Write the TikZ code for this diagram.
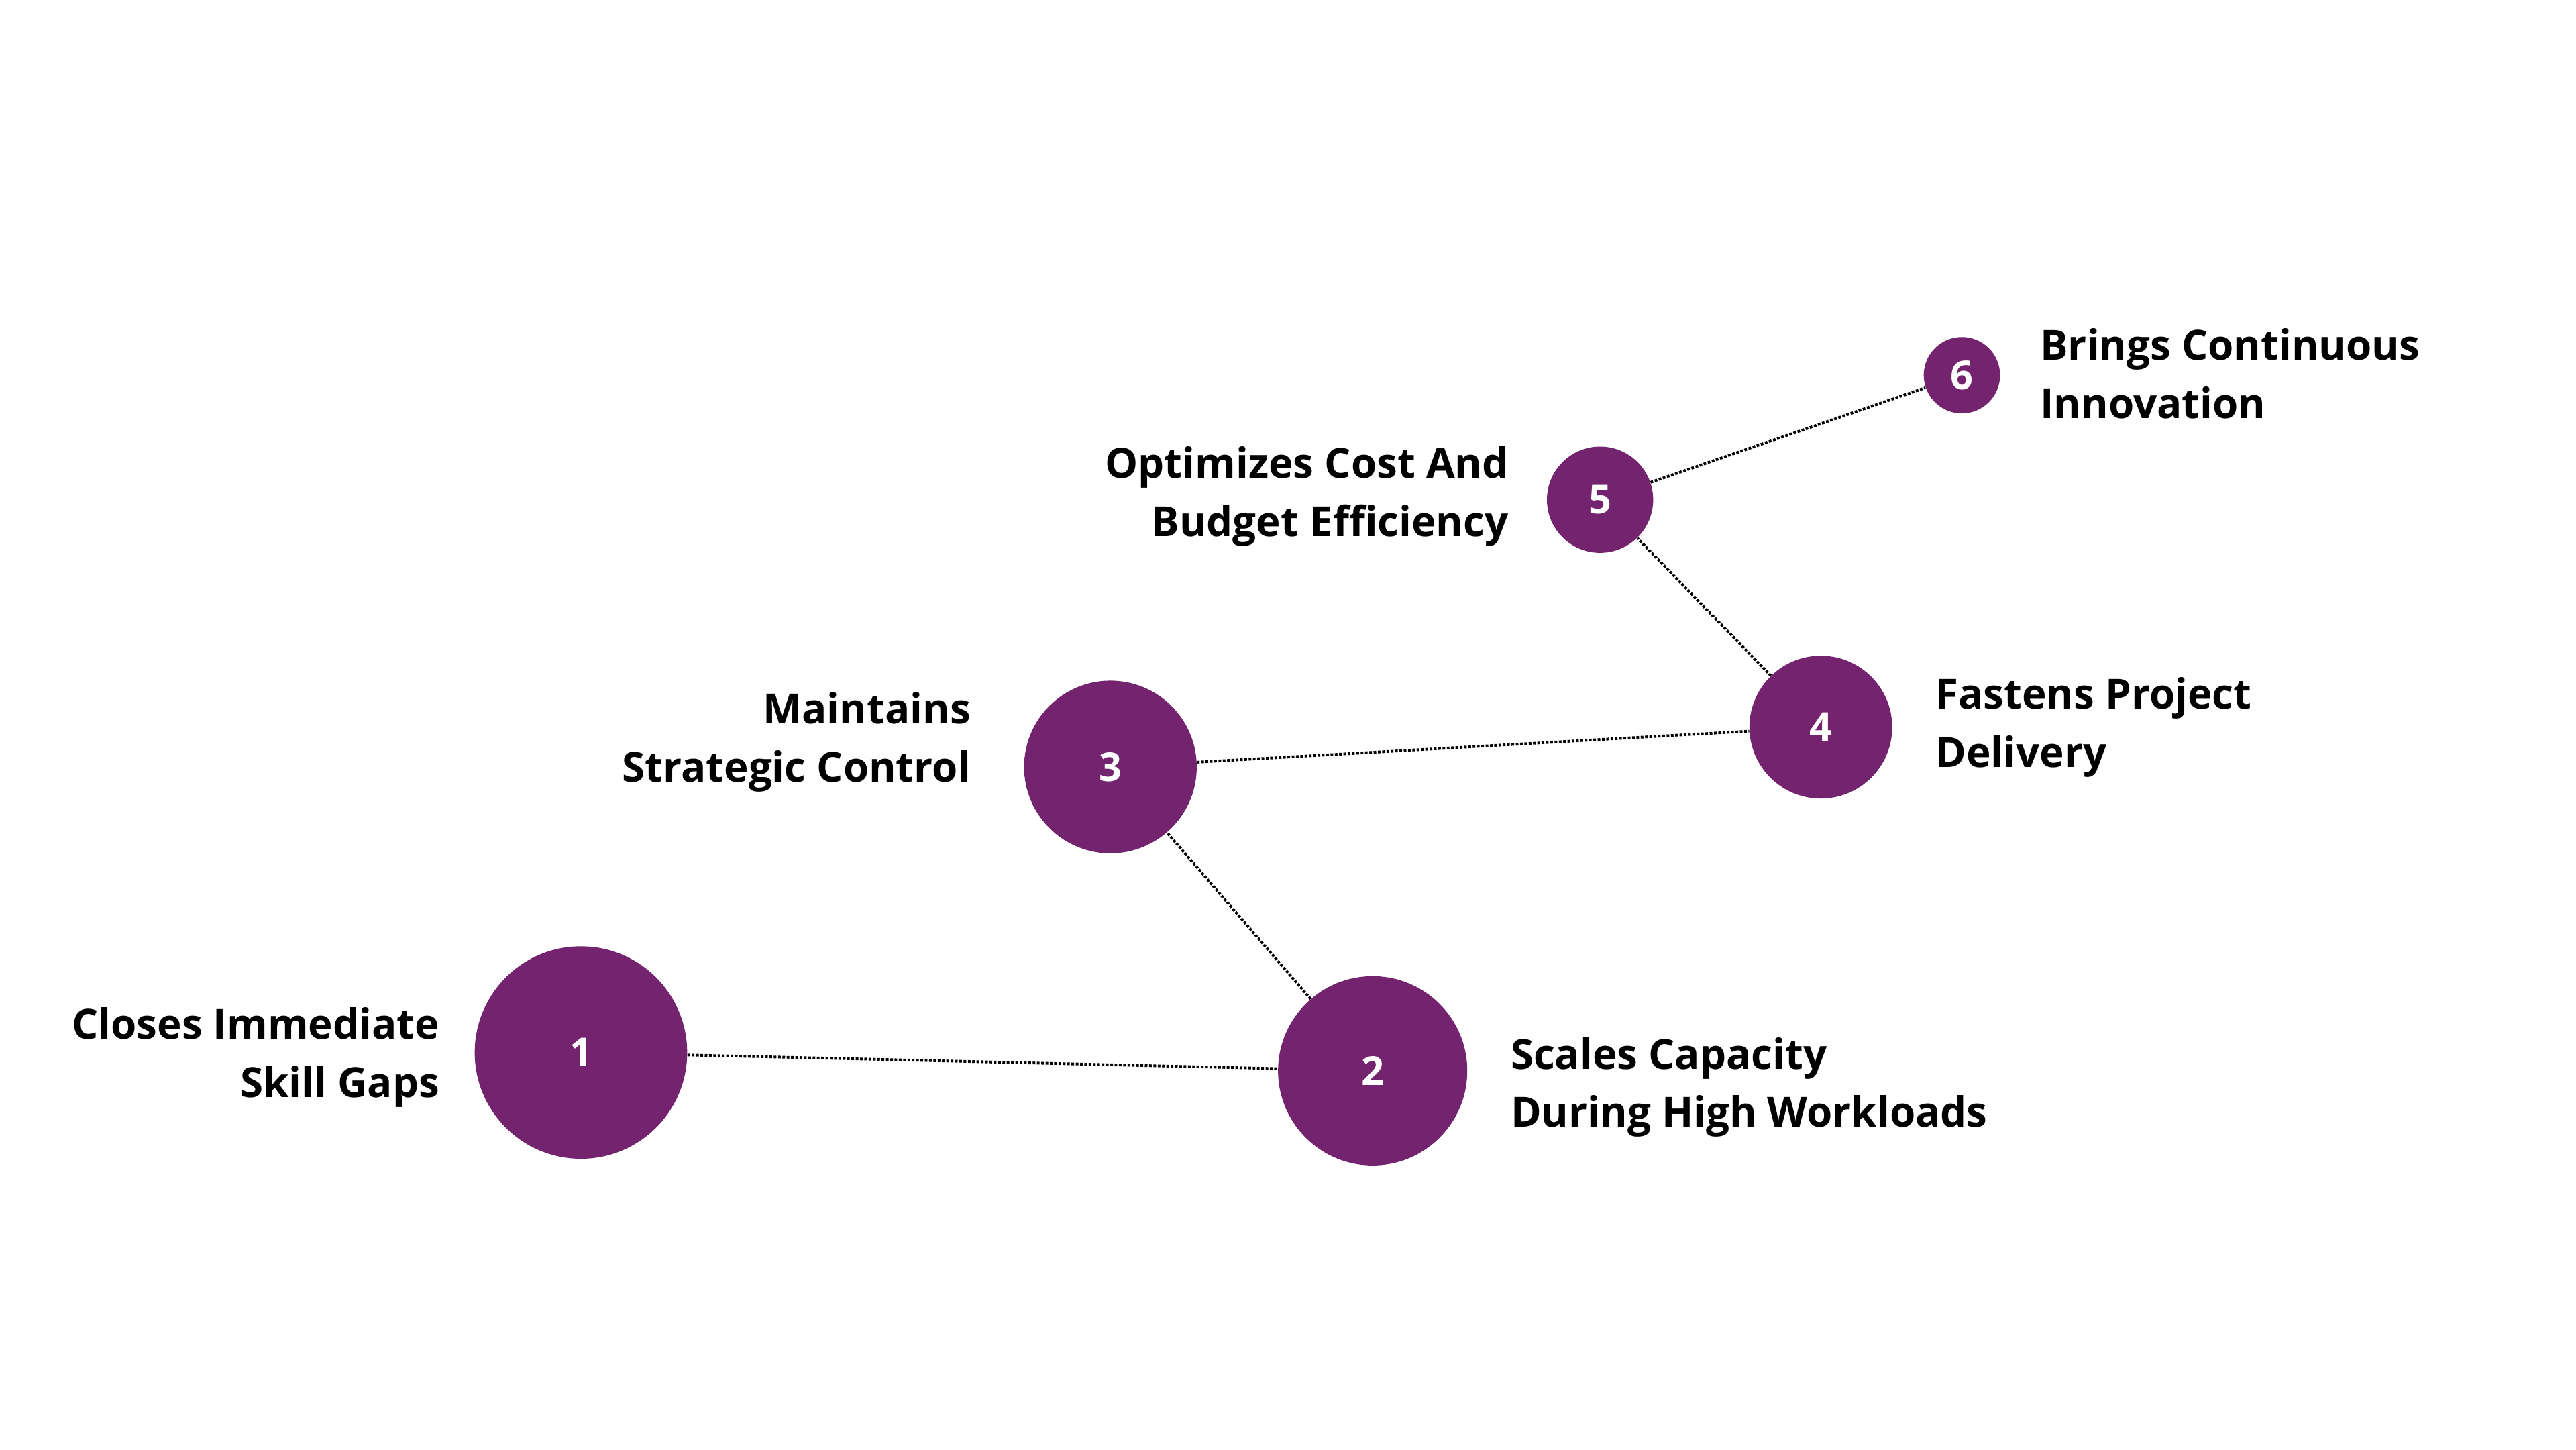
\documentclass[tikz,border=0pt]{standalone}
\usepackage{fontspec}
\setmainfont{Open Sans}
\definecolor{plum}{HTML}{74246F}
\begin{document}
\begin{tikzpicture}[x=1pt,y=1pt,
  dot/.style={circle,fill=plum,text=white,font=\fontsize{24}{28}\selectfont\bfseries,inner sep=0pt},
  lab/.style={font=\fontsize{25}{35}\selectfont\bfseries,inner sep=0pt},
  link/.style={densely dotted,line width=1.6pt,black}]
\useasboundingbox (0,0) rectangle (1552,873);
\node[dot,minimum size=128] (n1) at (350,239) {1};
\node[dot,minimum size=114] (n2) at (827,228) {2};
\node[dot,minimum size=104] (n3) at (669,411) {3};
\node[dot,minimum size=86] (n4) at (1097,435) {4};
\node[dot,minimum size=64] (n5) at (964,572) {5};
\node[dot,minimum size=46] (n6) at (1182,647) {6};
\draw[link] (n1) -- (n2);
\draw[link] (n2) -- (n3);
\draw[link] (n3) -- (n4);
\draw[link] (n4) -- (n5);
\draw[link] (n5) -- (n6);
\node[lab,anchor=east,align=right] (l1) at (265,236) {Closes Immediate\\Skill Gaps};
\node[lab,anchor=west,align=left] (l2) at (910,218) {Scales Capacity\\During High Workloads};
\node[lab,anchor=east,align=right] (l3) at (585,426) {Maintains\\Strategic Control};
\node[lab,anchor=west,align=left] (l4) at (1166,435) {Fastens Project\\Delivery};
\node[lab,anchor=east,align=right] (l5) at (909,574) {Optimizes Cost And\\Budget Efficiency};
\node[lab,anchor=west,align=left] (l6) at (1229,648) {Brings Continuous\\Innovation};
\end{tikzpicture}
\end{document}
